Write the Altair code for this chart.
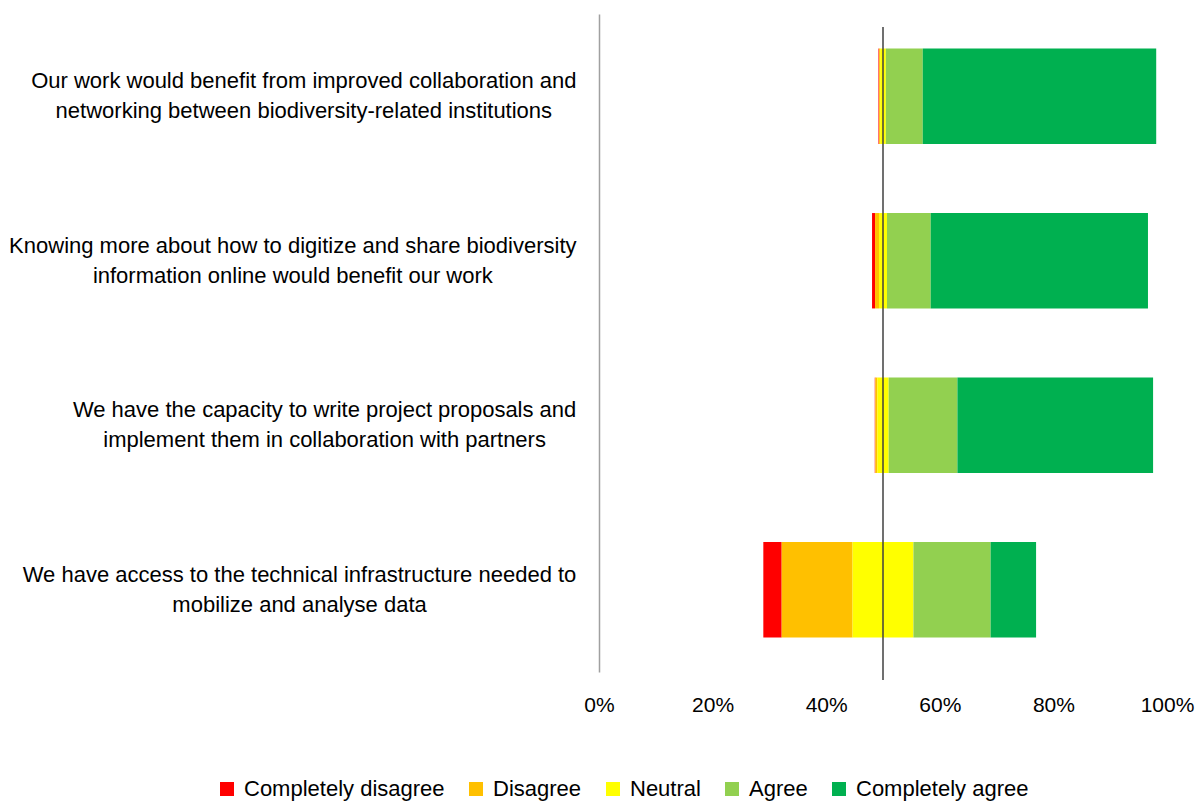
import altair as alt
import pandas as pd

# Survey statements (two lines each, split on the newline)
questions = [
    "Our work would benefit from improved collaboration and\nnetworking between biodiversity-related institutions",
    "Knowing more about how to digitize and share biodiversity\ninformation online would benefit our work",
    "We have the capacity to write project proposals and\nimplement them in collaboration with partners",
    "We have access to the technical infrastructure needed to\nmobilize and analyse data",
]

categories = ["Completely disagree", "Disagree", "Neutral", "Agree", "Completely agree"]
colors = ["#FF0000", "#FFC000", "#FFFF00", "#92D050", "#00B050"]

# Segment lengths per statement, in units of the percentage axis
completely_disagree = [0.12, 0.53, 0.10, 3.23]
disagree = [0.18, 0.70, 0.35, 12.48]
neutral = [1.00, 1.40, 2.00, 10.72]
agree = [6.50, 7.70, 12.10, 13.59]
completely_agree = [41.10, 38.25, 34.45, 8.00]

series = [completely_disagree, disagree, neutral, agree, completely_agree]

# Diverging layout: the middle of the neutral segment sits on the 50% line
rows = []
for i, q in enumerate(questions):
    start = 50 - completely_disagree[i] - disagree[i] - neutral[i] / 2
    for cat, vals in zip(categories, series):
        rows.append({"question": q, "category": cat, "x0": start, "x1": start + vals[i]})
        start += vals[i]
df = pd.DataFrame(rows)

FONT = "Liberation Sans"
LABEL_SIZE = 22
LABEL_GAP = 23
LINE_HEIGHT = 30

# Arial / Liberation Sans advance widths (per 1000 em) for the characters used
ADVANCE = {
    " ": 278, "-": 333,
    "a": 556, "b": 556, "c": 500, "d": 556, "e": 556, "f": 278, "g": 556,
    "h": 556, "i": 222, "j": 222, "k": 500, "l": 222, "m": 833, "n": 556,
    "o": 556, "p": 556, "q": 556, "r": 333, "s": 500, "t": 278, "u": 556,
    "v": 500, "w": 722, "x": 500, "y": 500, "z": 500,
    "K": 667, "O": 778, "W": 944,
}


def text_width(s, size):
    return sum(ADVANCE.get(ch, 556) for ch in s) * size / 1000


# Each label block is centred line-by-line, with its right edge LABEL_GAP from the axis
pad_conditions = []
for q in questions:
    w = max(text_width(line, LABEL_SIZE) for line in q.split("\n"))
    key = " ".join(q.split(" ")[:3])
    pad_conditions.append({"test": f"indexof(datum.label, '{key}') == 0", "value": LABEL_GAP + w / 2})

bars = alt.Chart(df).mark_bar().encode(
    x=alt.X(
        "x0:Q",
        scale=alt.Scale(domain=[0, 100], nice=False, zero=False),
        axis=alt.Axis(
            values=[0, 20, 40, 60, 80, 100],
            labelExpr="datum.value + '%'",
            title=None,
            domain=False,
            ticks=False,
            grid=False,
            labelFlush=False,
            labelPadding=22,
            labelFontSize=21,
            labelFont=FONT,
            labelColor="#000000",
        ),
    ),
    x2="x1:Q",
    y=alt.Y(
        "question:N",
        sort=questions,
        scale=alt.Scale(paddingInner=0.42, paddingOuter=0.21),
        axis=alt.Axis(
            title=None,
            ticks=False,
            grid=False,
            domainColor="#A0A0A0",
            domainWidth=1.5,
            labelExpr="split(datum.label, '\\n')",
            labelFontSize=LABEL_SIZE,
            labelFont=FONT,
            labelColor="#000000",
            labelAlign="center",
            labelBaseline="middle",
            labelOffset=-LINE_HEIGHT / 2,
            labelPadding={"condition": pad_conditions, "value": LABEL_GAP},
            labelLimit=0,
            labelLineHeight=LINE_HEIGHT,
        ),
    ),
    color=alt.Color(
        "category:N",
        sort=categories,
        scale=alt.Scale(domain=categories, range=colors),
        legend=alt.Legend(
            title=None,
            orient="none",
            direction="horizontal",
            legendX=-383,
            legendY=764,
            symbolType="square",
            symbolSize=196,
            symbolStrokeWidth=0,
            symbolOpacity=1,
            labelFontSize=LABEL_SIZE,
            labelFont=FONT,
            labelColor="#000000",
            labelLimit=0,
            labelOffset=6,
            columnPadding=20,
        ),
    ),
)

midline = alt.Chart(pd.DataFrame({"mid": [50]})).mark_rule(color="#404040", strokeWidth=1.5).encode(
    x="mid:Q", y=alt.value(13), y2=alt.value(666)
)

chart = (
    alt.layer(bars, midline)
    .properties(
        width=568,
        height=658,
        padding={"left": 599, "top": 14, "right": 29, "bottom": 129},
        autosize=alt.AutoSizeParams(type="none"),
        background="#FFFFFF",
    )
    .configure_view(stroke=None)
)

chart.save("out.html", embed_options={"renderer": "svg", "actions": False})
